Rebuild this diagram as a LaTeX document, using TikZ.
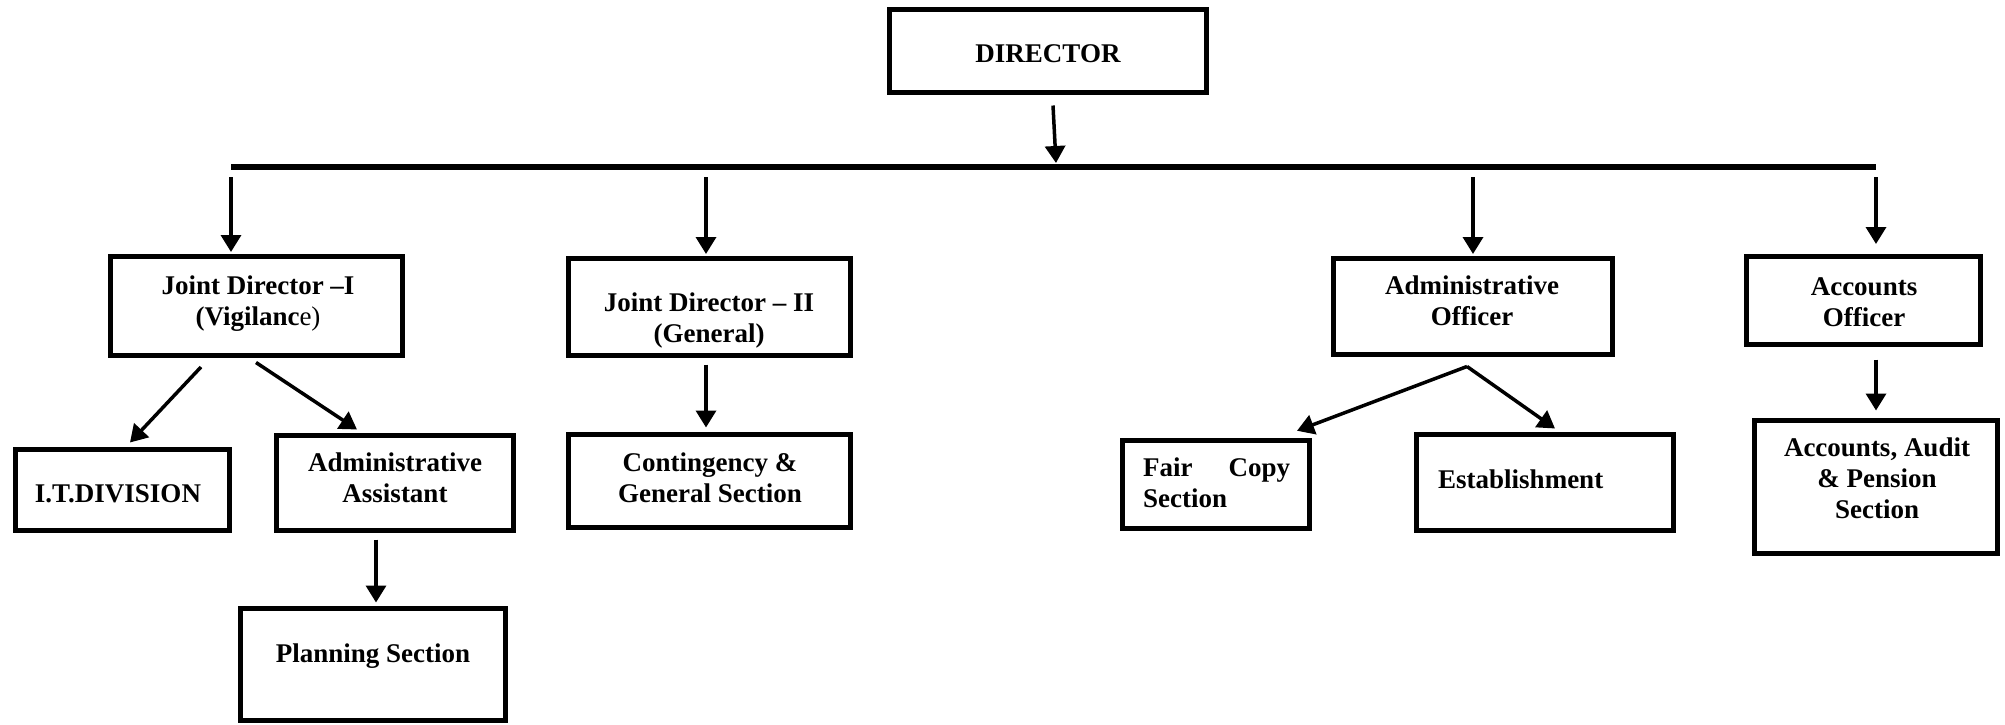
\documentclass[tikz,border=0pt]{standalone}
\usepackage{fontspec}
\setmainfont{Liberation Serif}
\usetikzlibrary{arrows.meta,calc}
\begin{document}
\begin{tikzpicture}[x=1pt,y=-1pt,
  box/.style={draw,line width=5pt,inner sep=0pt},
  txt/.style={font=\fontsize{27}{31}\selectfont\bfseries,align=center,inner sep=0pt,anchor=base},
  arr/.style={line width=3.5pt,-{Triangle[length=17pt,width=20pt]}}]
\useasboundingbox (0,0) rectangle (2005,725);
% boxes
\node[box,minimum width=317pt,minimum height=83pt] (dir) at (1048,51) {};
\node[box,minimum width=292pt,minimum height=99pt] (jd1) at (256,306) {};
\node[box,minimum width=282pt,minimum height=97pt] (jd2) at (709.5,307) {};
\node[box,minimum width=279pt,minimum height=96pt] (ao) at (1473,306.5) {};
\node[box,minimum width=234pt,minimum height=88pt] (acco) at (1863.5,300.5) {};
\node[box,minimum width=214pt,minimum height=81pt] (it) at (122.5,490) {};
\node[box,minimum width=237pt,minimum height=95pt] (aa) at (395,483) {};
\node[box,minimum width=265pt,minimum height=112pt] (plan) at (373,664.5) {};
\node[box,minimum width=282pt,minimum height=93pt] (cg) at (709.5,481) {};
\node[box,line width=4.5pt,minimum width=187pt,minimum height=88pt] (fc) at (1216,484.5) {};
\node[box,minimum width=257pt,minimum height=96pt] (est) at (1545,482.5) {};
\node[box,minimum width=243pt,minimum height=133pt] (aap) at (1876,487) {};
% texts (base anchor = baseline of the last line)
\node[txt] (dirt) at (1048,63) {DIRECTOR};
\node[txt] (jd1t) at (258,325) {Joint Director –I\\(\textbf{Vigilanc}{\mdseries e)}};
\node[txt] (jd2t) at (709,342) {Joint Director – II\\(General)};
\node[txt] (aot) at (1472,325) {Administrative\\Officer};
\node[txt] (accot) at (1864,326) {Accounts\\Officer};
\node[txt] (itt) at (118,502) {I.T.DIVISION};
\node[txt] (aat) at (395,502) {Administrative\\Assistant};
\node[txt] (plant) at (373,662) {Planning Section};
\node[txt] (cgt) at (710,502) {Contingency \&\\General Section};
\node[txt,anchor=base west,align=left] (fct) at (1143,507) {\makebox[147pt]{Fair\hfill Copy}\\Section};
\node[txt,anchor=base west] (estt) at (1438,488) {Establishment};
\node[txt] (aapt) at (1877,518) {Accounts, Audit\\\& Pension\\Section};
% bar
\coordinate (barL) at (231,167);
\coordinate (barR) at (1876,167);
\draw[line width=6pt] (barL) -- (barR);
\coordinate (b0) at (1056,163);
\coordinate (b1) at (231,177);
\coordinate (b2) at (706,177);
\coordinate (b3) at (1473,177);
\coordinate (b4) at (1876,177);
% connectors
\draw[arr] ($(dir.south)+(5,10.5)$) -- (b0);
\draw[arr] (b1) -- ($(b1 |- jd1.north)+(0,-2)$);
\draw[arr] (b2) -- ($(b2 |- jd2.north)+(0,-2)$);
\draw[arr] (b3) -- ($(b3 |- ao.north)+(0,-2)$);
\draw[arr] (b4) -- ($(b4 |- acco.north)+(0,-10)$);
\draw[arr] ($(jd1.south)+(-55,9)$) -- ($(it.north)+(7.5,-4.5)$);
\draw[arr] ($(jd1.south)+(0,4.5)$) -- ($(aa.north)+(-38,-3.5)$);
\draw[arr] ($(aa.south)+(-19,6.5)$) -- ($(plan.north)+(3,-3.5)$);
\draw[arr] ($(jd2.south)+(-3.5,6.5)$) -- ($(cg.north)+(-3.5,-4.5)$);
\draw[arr] ($(ao.south)+(-6,9.5)$) -- ($(fc.north)+(81,-7.5)$);
\draw[arr] ($(ao.south)+(-6,9.5)$) -- ($(est.north)+(10,-3.5)$);
\draw[arr] ($(acco.south)+(12.5,12.5)$) -- ($(aap.north)+(0,-7.5)$);
\end{tikzpicture}
\end{document}
